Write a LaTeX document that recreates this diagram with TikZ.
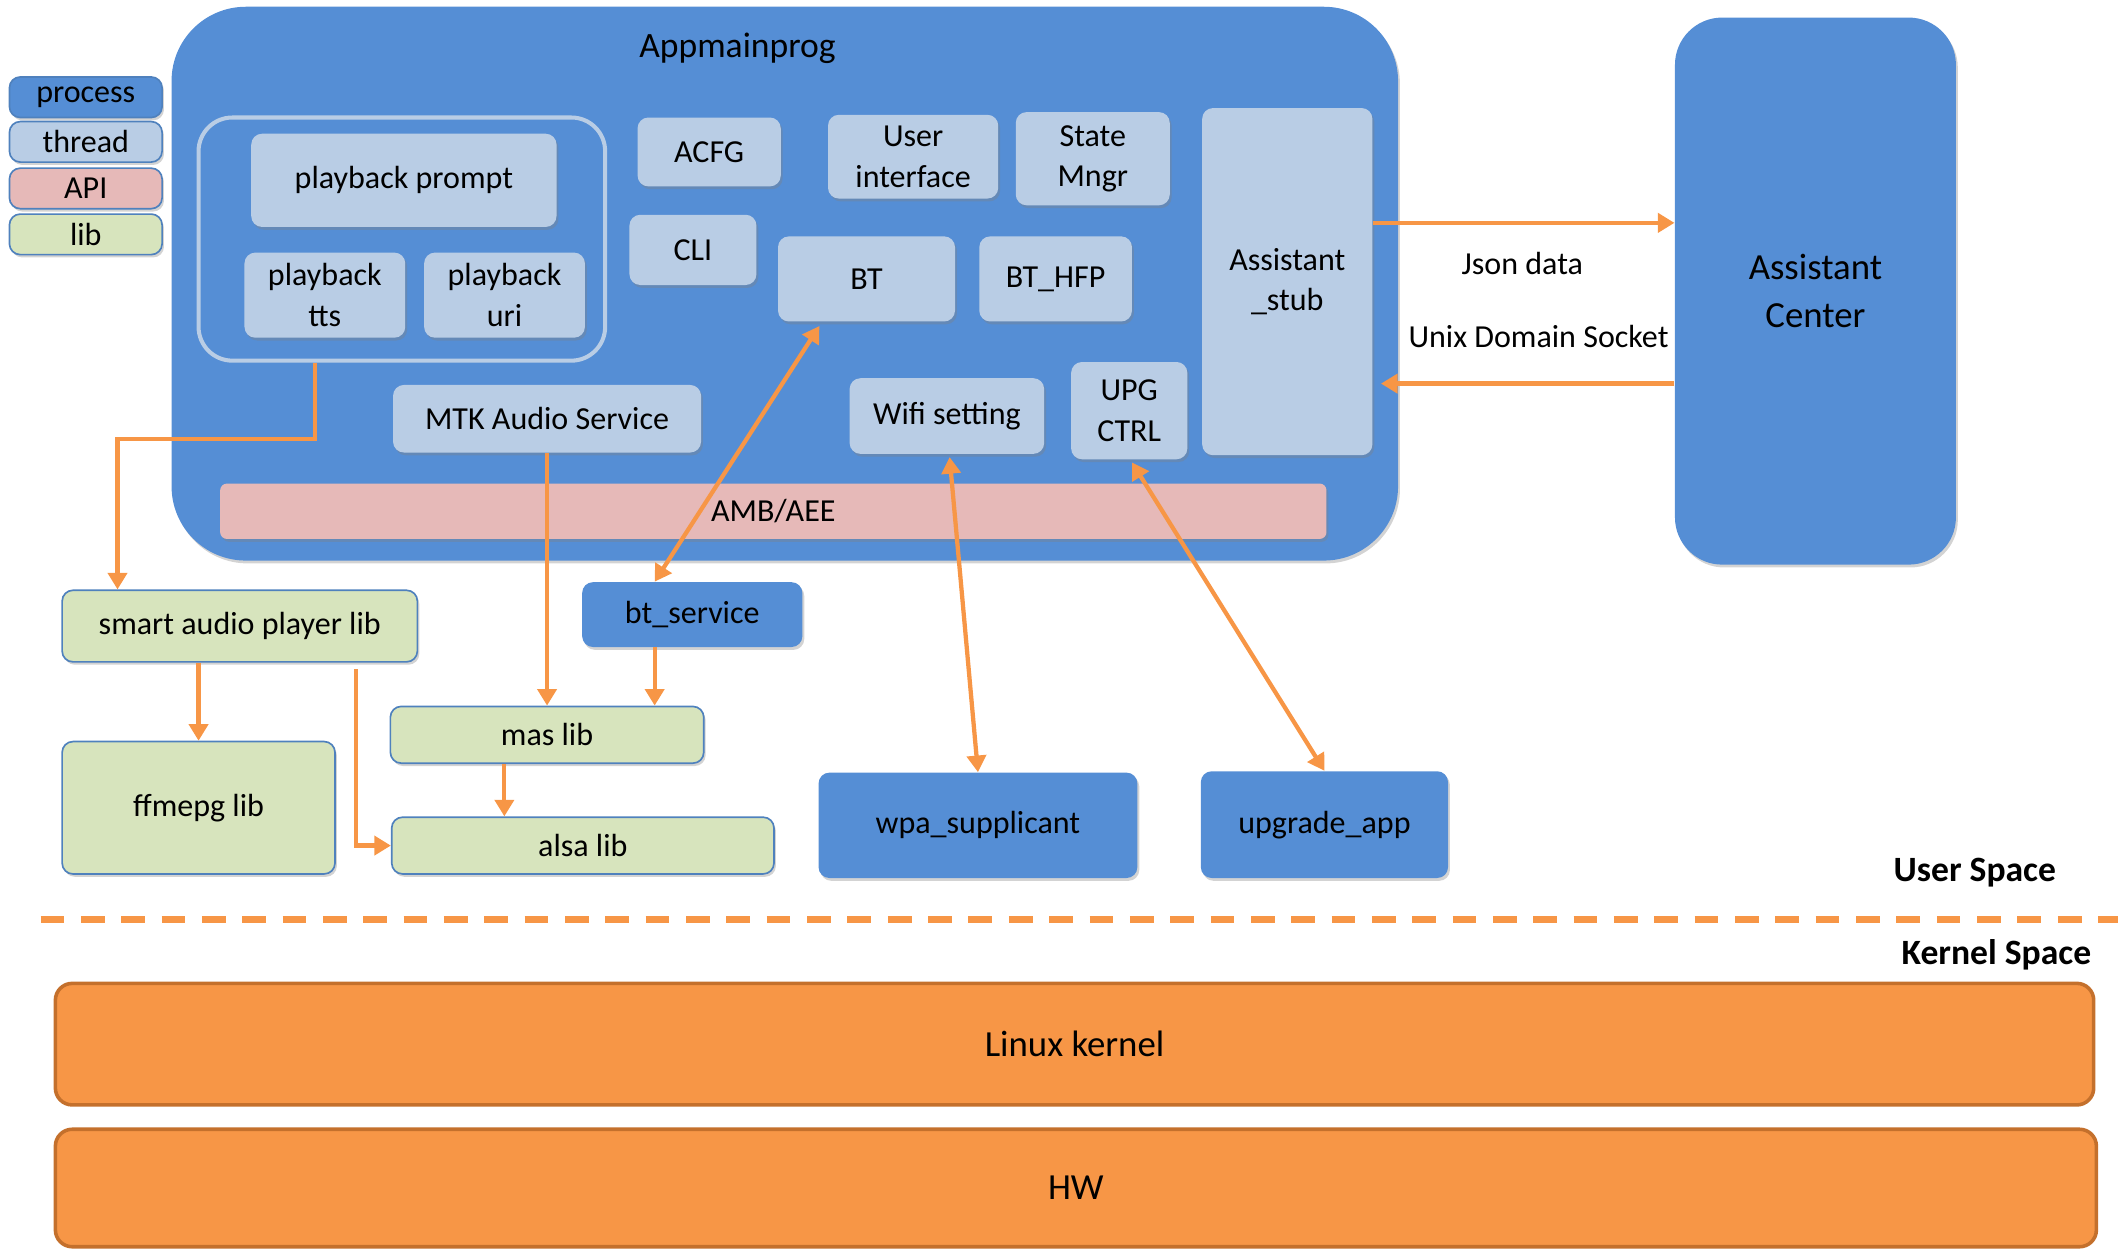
\documentclass[tikz,border=0pt]{standalone}
\usepackage{fontspec}
\setmainfont{Carlito}
\usepackage{tikz}
\usetikzlibrary{arrows.meta, shadows, calc}

\definecolor{procblue}{RGB}{85,142,213}
\definecolor{thrblue}{RGB}{185,205,229}
\definecolor{apipink}{RGB}{230,185,184}
\definecolor{libgreen}{RGB}{215,228,189}
\definecolor{libedge}{RGB}{79,129,189}
\definecolor{arrorange}{RGB}{247,150,70}
\definecolor{kernedge}{RGB}{196,112,44}

\begin{document}
\begin{tikzpicture}[x=0.02cm, y=-0.02cm, >={Triangle[length=7pt,width=8pt]},
    font=\fontsize{13.5}{17}\selectfont,
    wh/.style 2 args={minimum width=#1*0.02cm, minimum height=#2*0.02cm},
    base/.style={rounded corners=0.16cm, inner sep=0pt, align=center,
        drop shadow={opacity=0.35, shadow xshift=0.8pt, shadow yshift=-1.2pt}},
    proc/.style={base, fill=procblue},
    thr/.style={base, fill=thrblue},
    api/.style={base, fill=apipink},
    lib/.style={base, fill=libgreen, draw=libedge, line width=0.7pt},
    kern/.style={rounded corners=0.25cm, fill=arrorange, draw=kernedge, line width=1.5pt,
        inner sep=0pt, font=\fontsize{15.5}{19}\selectfont},
    arr/.style={->, draw=arrorange, line width=1.8pt},
    dbl/.style={<->, draw=arrorange, line width=1.8pt}]
    \useasboundingbox (0,0) rectangle (1568,925);

    % legend
    \node[proc, wh={113}{30}, draw=libedge, line width=0.7pt] (lproc) at (63.5,72) {process};
    \node[thr, wh={113}{30}, draw=libedge, line width=0.7pt] (lthr) at (63.5,105) {thread};
    \node[api, wh={113}{30}, draw=libedge, line width=0.7pt] (lapi) at (63.5,139.5) {API};
    \node[lib, wh={113}{30}] (llib) at (63.5,173.5) {lib};

    % main process
    \node[proc, rounded corners=1.1cm, wh={908}{410}] (app) at (581,210) {};
    \node[font=\fontsize{15}{18}\selectfont] (appl) at (546,36) {Appmainprog};
    \node[draw=thrblue, line width=1.7pt, rounded corners=0.5cm, wh={301}{180}, inner sep=0pt] (grp) at (297.5,177) {};
    \node[thr, wh={226}{69}] (prompt) at (299,133.5) {playback prompt};
    \node[thr, wh={119}{63}] (tts) at (240.5,218.5) {playback\\tts};
    \node[thr, wh={119}{63}] (uri) at (373.5,218.5) {playback\\uri};
    \node[thr, wh={106}{51}] (acfg) at (525,112.5) {ACFG};
    \node[thr, wh={94}{52}] (cli) at (513,185) {CLI};
    \node[thr, wh={126}{62}] (ui) at (676,116) {User\\interface};
    \node[thr, wh={114}{69}] (state) at (809,117.5) {State\\Mngr};
    \node[thr, wh={131}{63}] (bt) at (641.5,206.5) {BT};
    \node[thr, wh={113}{63}] (bthfp) at (781.5,206.5) {BT\_HFP};
    \node[thr, wh={126}{257}] (stub) at (953,208.5) {Assistant\\\_stub};
    \node[thr, wh={228}{50}] (mtk) at (405,310) {MTK Audio Service};
    \node[thr, wh={144}{56}] (wifi) at (701,308) {Wifi setting};
    \node[thr, wh={86}{72}] (upg) at (836,304) {UPG\\CTRL};
    \node[api, rounded corners=0.1cm, wh={819}{41}] (amb) at (572.5,378.5) {AMB/AEE};

    % assistant center
    \node[proc, rounded corners=0.7cm, wh={208}{405}, font=\fontsize{15.5}{20}\selectfont] (ac) at (1344,215.5) {Assistant\\Center};
    \node (json) at (1127,195) {Json data};
    \node (uds) at (1139,249) {Unix Domain Socket};

    % user space blocks
    \node[lib, wh={263}{53}] (sapl) at (177.5,463.5) {smart audio player lib};
    \node[proc, wh={163}{48}] (bts) at (512.5,455) {bt\_service};
    \node[lib, wh={232}{42}] (mas) at (405,544) {mas lib};
    \node[lib, wh={202}{98}] (ffm) at (147,598) {ffmepg lib};
    \node[lib, wh={283}{42}] (alsa) at (431.5,626) {alsa lib};
    \node[proc, wh={236}{78}] (wpa) at (724,611) {wpa\_supplicant};
    \node[proc, wh={183}{79}] (upapp) at (980.5,610.5) {upgrade\_app};

    % user / kernel split
    \node[font=\fontsize{15}{18}\selectfont\bfseries] (us) at (1462,646) {User Space};
    \node[font=\fontsize{15}{18}\selectfont\bfseries] (ks) at (1478,707) {Kernel Space};
    \coordinate (dl) at (30,681);
    \coordinate (dr) at (1568,681);
    \draw[arrorange, line width=3pt, dash pattern=on 10pt off 7pt] (dl) -- (dr);
    \node[kern, wh={1509}{90}] (lk) at (795.5,773) {Linux kernel};
    \node[kern, wh={1511}{87}] (hw) at (796.5,879.5) {HW};

    % connectors
    \coordinate (b1) at (233,325);
    \coordinate (b2) at (87,325);
    \draw[arr] (b1 |- grp.south) -- (b1) -- (b2) -- (b2 |- sapl.north);
    \draw[arr] (mtk.south) -- (mtk.south |- mas.north);
    \draw[dbl] ($(bt.south west)+(31,3)$) -- ($(bts.north west)+(54,0)$);
    \draw[arr] ($(bts.south west)+(54,0)$) coordinate (b3) -- (b3 |- mas.north);
    \draw[arr] (ffm.north |- sapl.south) -- (ffm.north);
    \draw[arr] ($(sapl.south west)+(218,5)$) |- (alsa.west);
    \draw[arr] ($(mas.south west)+(85,0)$) coordinate (b4) -- (b4 |- alsa.north);
    \draw[dbl] ($(wifi.south)+(2,2)$) -- (wpa.north);
    \draw[dbl] ($(upg.south)+(2,2)$) -- (upapp.north);
    \draw[arr] ($(stub.east)+(0,-43.5)$) coordinate (j1) -- (j1 -| ac.west);
    \draw[arr] ($(ac.west)+(0,68.5)$) coordinate (u1) -- ($(u1 -| stub.east)+(6,0)$);
\end{tikzpicture}
\end{document}
